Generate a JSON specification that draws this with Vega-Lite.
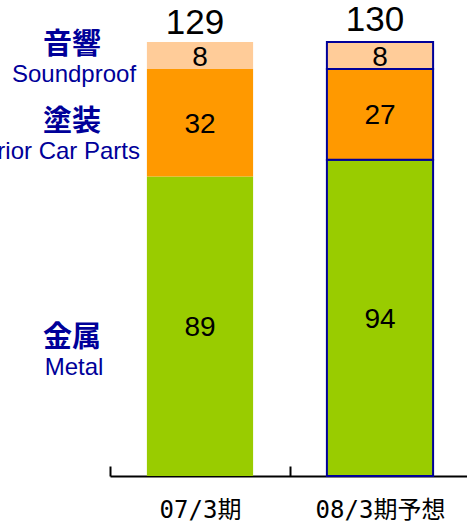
{
  "$schema": "https://vega.github.io/schema/vega-lite/v6.json",
  "width": 360,
  "height": 476,
  "autosize": {"type": "none"},
  "padding": {"left": 110, "top": 0, "right": 0, "bottom": 49},
  "config": {"view": {"stroke": null}},
  "datasets": {
    "bars": [
      {"period": "07/3期", "segment": "金属", "value": 89, "rank": 1},
      {"period": "07/3期", "segment": "塗装", "value": 32, "rank": 2},
      {"period": "07/3期", "segment": "音響", "value": 8, "rank": 3},
      {"period": "08/3期予想", "segment": "金属", "value": 94, "rank": 1},
      {"period": "08/3期予想", "segment": "塗装", "value": 27, "rank": 2},
      {"period": "08/3期予想", "segment": "音響", "value": 8, "rank": 3}
    ],
    "totals": [
      {"period": "07/3期", "total": 129},
      {"period": "08/3期予想", "total": 130}
    ],
    "labels": [
      {"period": "07/3期", "cn": "音響", "en": "Soundproof", "at": 123.7},
      {"period": "07/3期", "cn": "塗装", "en": "Interior Car Parts", "at": 100.8},
      {"period": "07/3期", "cn": "金属", "en": "Metal", "at": 36.7}
    ]
  },
  "layer": [
    {
      "data": {"name": "bars"},
      "transform": [
        {"stack": "value", "groupby": ["period"], "sort": [{"field": "rank", "order": "ascending"}], "as": ["y0", "y1"]}
      ],
      "mark": {"type": "bar", "strokeWidth": 2},
      "encoding": {
        "x": {
          "field": "period", "type": "nominal", "sort": null,
          "scale": {"paddingInner": 0.41, "paddingOuter": 0.205},
          "axis": {
            "title": null, "labelAngle": 0, "domainColor": "#000000", "domainWidth": 2,
            "tickColor": "#000000", "tickWidth": 2, "tickSize": -10, "tickOffset": -90, "labelOffset": 90,
            "labelFont": "DejaVu Sans Mono, Noto Sans CJK JP", "labelFontSize": 24,
            "labelColor": "#000000", "labelPadding": 44, "labelBaseline": "middle"
          }
        },
        "y": {"field": "y0", "type": "quantitative", "scale": {"domain": [0, 141.5], "nice": false, "zero": true}, "axis": null},
        "y2": {"field": "y1"},
        "color": {
          "field": "segment", "type": "nominal", "legend": null,
          "scale": {"domain": ["金属", "塗装", "音響"], "range": ["#99CC00", "#FF9900", "#FFCC99"]}
        },
        "stroke": {"condition": {"test": "datum.period === '08/3期予想'", "value": "#000099"}, "value": null}
      }
    },
    {
      "data": {"name": "bars"},
      "transform": [
        {"stack": "value", "groupby": ["period"], "sort": [{"field": "rank", "order": "ascending"}], "as": ["y0", "y1"]},
        {"calculate": "(datum.y0 + datum.y1) / 2", "as": "mid"}
      ],
      "mark": {"type": "text", "font": "Liberation Sans", "fontSize": 28, "color": "#000000", "baseline": "middle", "dy": 2},
      "encoding": {
        "x": {"field": "period", "type": "nominal", "sort": null},
        "y": {"field": "mid", "type": "quantitative"},
        "text": {"field": "value", "type": "quantitative"}
      }
    },
    {
      "data": {"name": "totals"},
      "mark": {"type": "text", "font": "Liberation Sans", "fontSize": 35, "color": "#000000", "baseline": "bottom", "dx": -5, "dy": -1},
      "encoding": {
        "x": {"field": "period", "type": "nominal", "sort": null},
        "y": {"field": "total", "type": "quantitative"},
        "text": {"field": "total", "type": "quantitative"}
      }
    },
    {
      "data": {"name": "labels"},
      "mark": {"type": "text", "font": "Noto Sans CJK JP", "fontWeight": "bold", "fontSize": 29, "color": "#000099", "baseline": "middle", "align": "center", "dx": -128, "dy": -15},
      "encoding": {
        "x": {"field": "period", "type": "nominal", "sort": null},
        "y": {"field": "at", "type": "quantitative"},
        "text": {"field": "cn"}
      }
    },
    {
      "data": {"name": "labels"},
      "transform": [{"filter": "datum.en !== 'Interior Car Parts'"}],
      "mark": {"type": "text", "font": "Liberation Sans", "fontSize": 24, "color": "#000099", "baseline": "middle", "align": "center", "dx": -126, "dy": 15},
      "encoding": {
        "x": {"field": "period", "type": "nominal", "sort": null},
        "y": {"field": "at", "type": "quantitative"},
        "text": {"field": "en"}
      }
    },
    {
      "data": {"name": "labels"},
      "transform": [{"filter": "datum.en === 'Interior Car Parts'"}],
      "mark": {"type": "text", "font": "Liberation Sans", "fontSize": 24, "color": "#000099", "baseline": "middle", "align": "right", "dx": -60, "dy": 15},
      "encoding": {
        "x": {"field": "period", "type": "nominal", "sort": null},
        "y": {"field": "at", "type": "quantitative"},
        "text": {"field": "en"}
      }
    }
  ]
}
